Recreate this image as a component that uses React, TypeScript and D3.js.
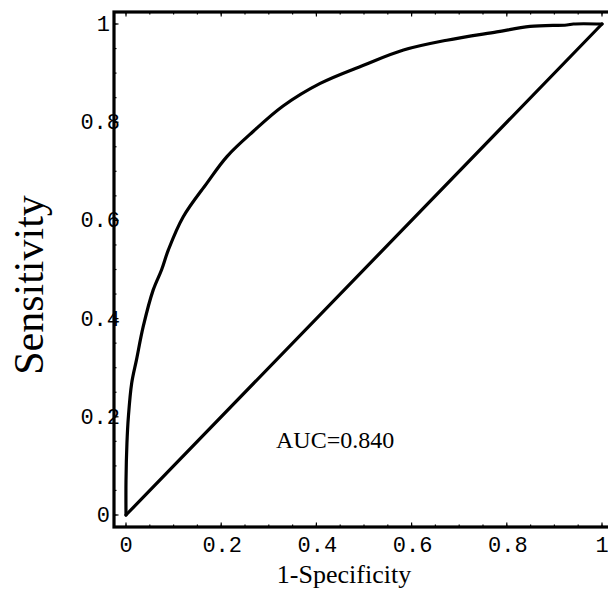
import { useEffect, useRef } from 'react';
import * as d3 from 'd3';

// ROC curve
const fpr = [0, 0, 0.002, 0.005, 0.012, 0.022, 0.036, 0.057, 0.075, 0.089, 0.12, 0.17, 0.212, 0.267, 0.33, 0.408, 0.499, 0.583, 0.674, 0.779, 0.849, 0.926, 0.94, 1];
const tpr = [0, 0.07, 0.147, 0.2, 0.269, 0.316, 0.383, 0.458, 0.5, 0.54, 0.607, 0.676, 0.73, 0.781, 0.833, 0.879, 0.916, 0.947, 0.967, 0.984, 0.995, 0.998, 1, 1];

// chance line
const chanceX = [0, 1];
const chanceY = [0, 1];

const majorTicks = [0, 0.2, 0.4, 0.6, 0.8, 1];
const tickLabels = ['0', '0.2', '0.4', '0.6', '0.8', '1'];
const minorTicks = d3.range(0, 21).map(i => i / 20);

const aucText = 'AUC=0.840';
const xTitle = '1-Specificity';
const yTitle = 'Sensitivity';

const W = 608;
const H = 591;

const App = () => {
    const svgRef = useRef<SVGSVGElement>(null);

    useEffect(() => {
        const svg = d3.select(svgRef.current);
        svg.selectAll('*').remove();

        const x = d3.scaleLinear().domain([0, 1]).range([126, 602]);
        const y = d3.scaleLinear().domain([0, 1]).range([515, 24]);
        const pad = 12;
        const left = x(0) - pad, right = x(1) + pad, top = y(1) - pad, bottom = y(0) + pad;

        const g = svg.append('g');

        // ticks, all pointing into the frame
        const tickSets: [number[], number][] = [[minorTicks, 2.5], [majorTicks, 4.5]];
        tickSets.forEach(([vals, len]) => {
            vals.forEach(v => {
                g.append('line').attr('x1', x(v)).attr('x2', x(v)).attr('y1', bottom).attr('y2', bottom - len);
                g.append('line').attr('x1', x(v)).attr('x2', x(v)).attr('y1', top).attr('y2', top + len);
                g.append('line').attr('y1', y(v)).attr('y2', y(v)).attr('x1', left).attr('x2', left + len);
                g.append('line').attr('y1', y(v)).attr('y2', y(v)).attr('x1', right).attr('x2', right - len);
            });
        });
        g.selectAll('line').attr('stroke', '#000').attr('stroke-width', 1.2);

        // frame
        g.append('rect')
            .attr('x', left).attr('y', top)
            .attr('width', right - left).attr('height', bottom - top)
            .attr('fill', 'none').attr('stroke', '#000').attr('stroke-width', 3.2);

        // tick labels
        const mono = '"Liberation Mono", "Courier New", monospace';
        g.selectAll('.xlab')
            .data(majorTicks)
            .enter().append('text')
            .attr('class', 'xlab')
            .attr('x', (d, i) => tickLabels[i].length > 1 ? x(d) + 1 : x(d))
            .attr('y', bottom + 24.5)
            .attr('text-anchor', 'middle')
            .attr('font-family', mono).attr('font-size', 22)
            .text((d, i) => tickLabels[i]);

        g.selectAll('.ylab')
            .data(majorTicks)
            .enter().append('text')
            .attr('class', 'ylab')
            .attr('x', (d, i) => tickLabels[i].length > 1 ? 120 : 110)
            .attr('y', d => y(d) + 7)
            .attr('text-anchor', 'end')
            .attr('font-family', mono).attr('font-size', 22)
            .text((d, i) => tickLabels[i]);

        // curves
        const path = d3.line<[number, number]>()
            .x(d => x(d[0])).y(d => y(d[1]))
            .curve(d3.curveCatmullRom.alpha(0.5));

        g.append('path')
            .attr('d', path(chanceX.map((v, i) => [v, chanceY[i]])))
            .attr('fill', 'none').attr('stroke', '#000').attr('stroke-width', 3.2)
            .attr('stroke-linejoin', 'round').attr('stroke-linecap', 'round');

        g.append('path')
            .attr('d', path(fpr.map((v, i) => [v, tpr[i]])))
            .attr('fill', 'none').attr('stroke', '#000').attr('stroke-width', 3.2)
            .attr('stroke-linejoin', 'round').attr('stroke-linecap', 'round');

        // text
        const serif = '"Liberation Serif", "Times New Roman", serif';
        g.append('text')
            .attr('x', 276).attr('y', 448)
            .attr('font-family', serif).attr('font-size', 24)
            .text(aucText);

        g.append('text')
            .attr('x', 344).attr('y', 583)
            .attr('text-anchor', 'middle')
            .attr('font-family', serif).attr('font-size', 26)
            .text(xTitle);

        g.append('text')
            .attr('transform', `translate(43, ${285}) rotate(-90)`)
            .attr('text-anchor', 'middle')
            .attr('font-family', serif).attr('font-size', 42)
            .text(yTitle);
    }, []);

    return (
        <svg ref={svgRef} width={W} height={H}
            style={{ position: 'absolute', left: 0, top: 0, background: '#fff' }} />
    );
};

export default App;
